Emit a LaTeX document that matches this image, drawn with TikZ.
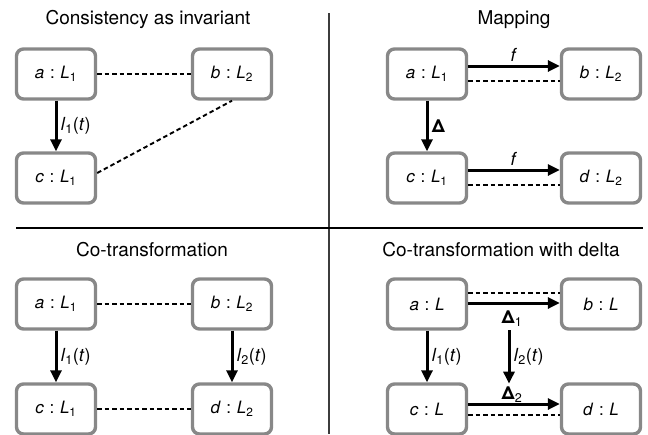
\documentclass[tikz,border=0pt]{standalone}
\usepackage{fontspec}
\setmainfont{TeX Gyre Heros}
\usetikzlibrary{arrows.meta}
\definecolor{boxgray}{RGB}{136,136,136}
\definecolor{rulegray}{RGB}{60,60,60}

\tikzset{
  obj/.style={draw=boxgray, line width=3.4pt, rounded corners=7pt, fill=white,
    minimum width=79pt, minimum height=50pt, font=\fontsize{17}{20}\selectfont},
  title/.style={font=\fontsize{19}{22}\selectfont},
  map/.style={line width=3pt, -{Triangle[length=12pt,width=11pt]}},
  link/.style={line width=1.9pt, dash pattern=on 4.5pt off 3pt},
  lbl/.style={font=\fontsize{18}{21}\selectfont},
}
% object "x : L_i"
\newcommand{\ob}[2]{\textit{#1}\,\,:\,\,\textit{L}\textsubscript{#2}}
% lens "l_i(t)"
\newcommand{\lens}[1]{\textit{l}\textsubscript{#1}(\textit{t})}

\begin{document}
\begin{tikzpicture}[x=1pt,y=-1pt]
    \useasboundingbox (0,0) rectangle (648,434);

    % Quadrant rules
    \draw[rulegray, line width=2pt] (329,13) -- (329,434);
    \draw[line width=2pt] (16,228) -- (643,228);

    % Consistency as invariant
    \node[title] (t1) at (148,19) {Consistency as invariant};
    \node[obj] (a1) at (56,74) {\ob{a}{1}};
    \node[obj] (b1) at (232,74) {\ob{b}{2}};
    \node[obj] (c1) at (56,178) {\ob{c}{1}};
    \draw[map] (a1) -- node[lbl,right] {\lens{1}} (c1);
    \draw[link] (a1) -- (b1);
    \draw[link] ([yshift=5pt]c1.east) -- (b1.south);

    % Mapping
    \node[title] (t2) at (514,20) {Mapping};
    \node[obj] (a2) at (427,74) {\ob{a}{1}};
    \node[obj] (b2) at (601,74) {\ob{b}{2}};
    \node[obj] (c2) at (427,178) {\ob{c}{1}};
    \node[obj] (d2) at (601,178) {\ob{d}{2}};
    \draw[map] ([yshift=8pt]a2.east) -- node[lbl,above] {\textit{f}} ([yshift=8pt]b2.west);
    \draw[link] ([yshift=-7pt]a2.east) -- ([yshift=-7pt]b2.west);
    \draw[map] ([yshift=8pt]c2.east) -- node[lbl,above] {\textit{f}} ([yshift=8pt]d2.west);
    \draw[link] ([yshift=-7pt]c2.east) -- ([yshift=-7pt]d2.west);
    \draw[map] (a2) -- node[lbl,right] {\textbf{Δ}} (c2);

    % Co-transformation
    \node[title] (t3) at (152,250) {Co-transformation};
    \node[obj] (a3) at (56,304) {\ob{a}{1}};
    \node[obj] (b3) at (232,304) {\ob{b}{2}};
    \node[obj] (c3) at (56,409) {\ob{c}{1}};
    \node[obj] (d3) at (232,409) {\ob{d}{2}};
    \draw[link] (a3) -- (b3);
    \draw[link] (c3) -- (d3);
    \draw[map] (a3) -- node[lbl,right] {\lens{1}} (c3);
    \draw[map] (b3) -- node[lbl,right] {\lens{2}} (d3);

    % Co-transformation with delta
    \node[title] (t4) at (501,250) {Co-transformation with delta};
    \node[obj] (a4) at (427,304) {\textit{a}\,\,:\,\,\textit{L}};
    \node[obj] (b4) at (601,304) {\textit{b}\,\,:\,\,\textit{L}};
    \node[obj] (c4) at (427,409) {\textit{c}\,\,:\,\,\textit{L}};
    \node[obj] (d4) at (601,409) {\textit{d}\,\,:\,\,\textit{L}};
    \draw[link] ([yshift=11pt]a4.east) -- ([yshift=11pt]b4.west);
    \draw[map] ([yshift=1pt]a4.east) -- ([yshift=1pt]b4.west);
    \draw[map] ([yshift=5pt]c4.east) -- ([yshift=5pt]d4.west);
    \draw[link] ([yshift=-6pt]c4.east) -- ([yshift=-6pt]d4.west);
    \node[lbl] (delta1) at (512,319) {\textbf{Δ}\textsubscript{1}};
    \node[lbl] (delta2) at (512,395) {\textbf{Δ}\textsubscript{2}};
    \draw[map] ([xshift=-3pt]delta1.south) -- node[lbl,right] {\lens{2}} ([xshift=-3pt]delta2.north);
    \draw[map] (a4) -- node[lbl,right] {\lens{1}} (c4);
\end{tikzpicture}
\end{document}
